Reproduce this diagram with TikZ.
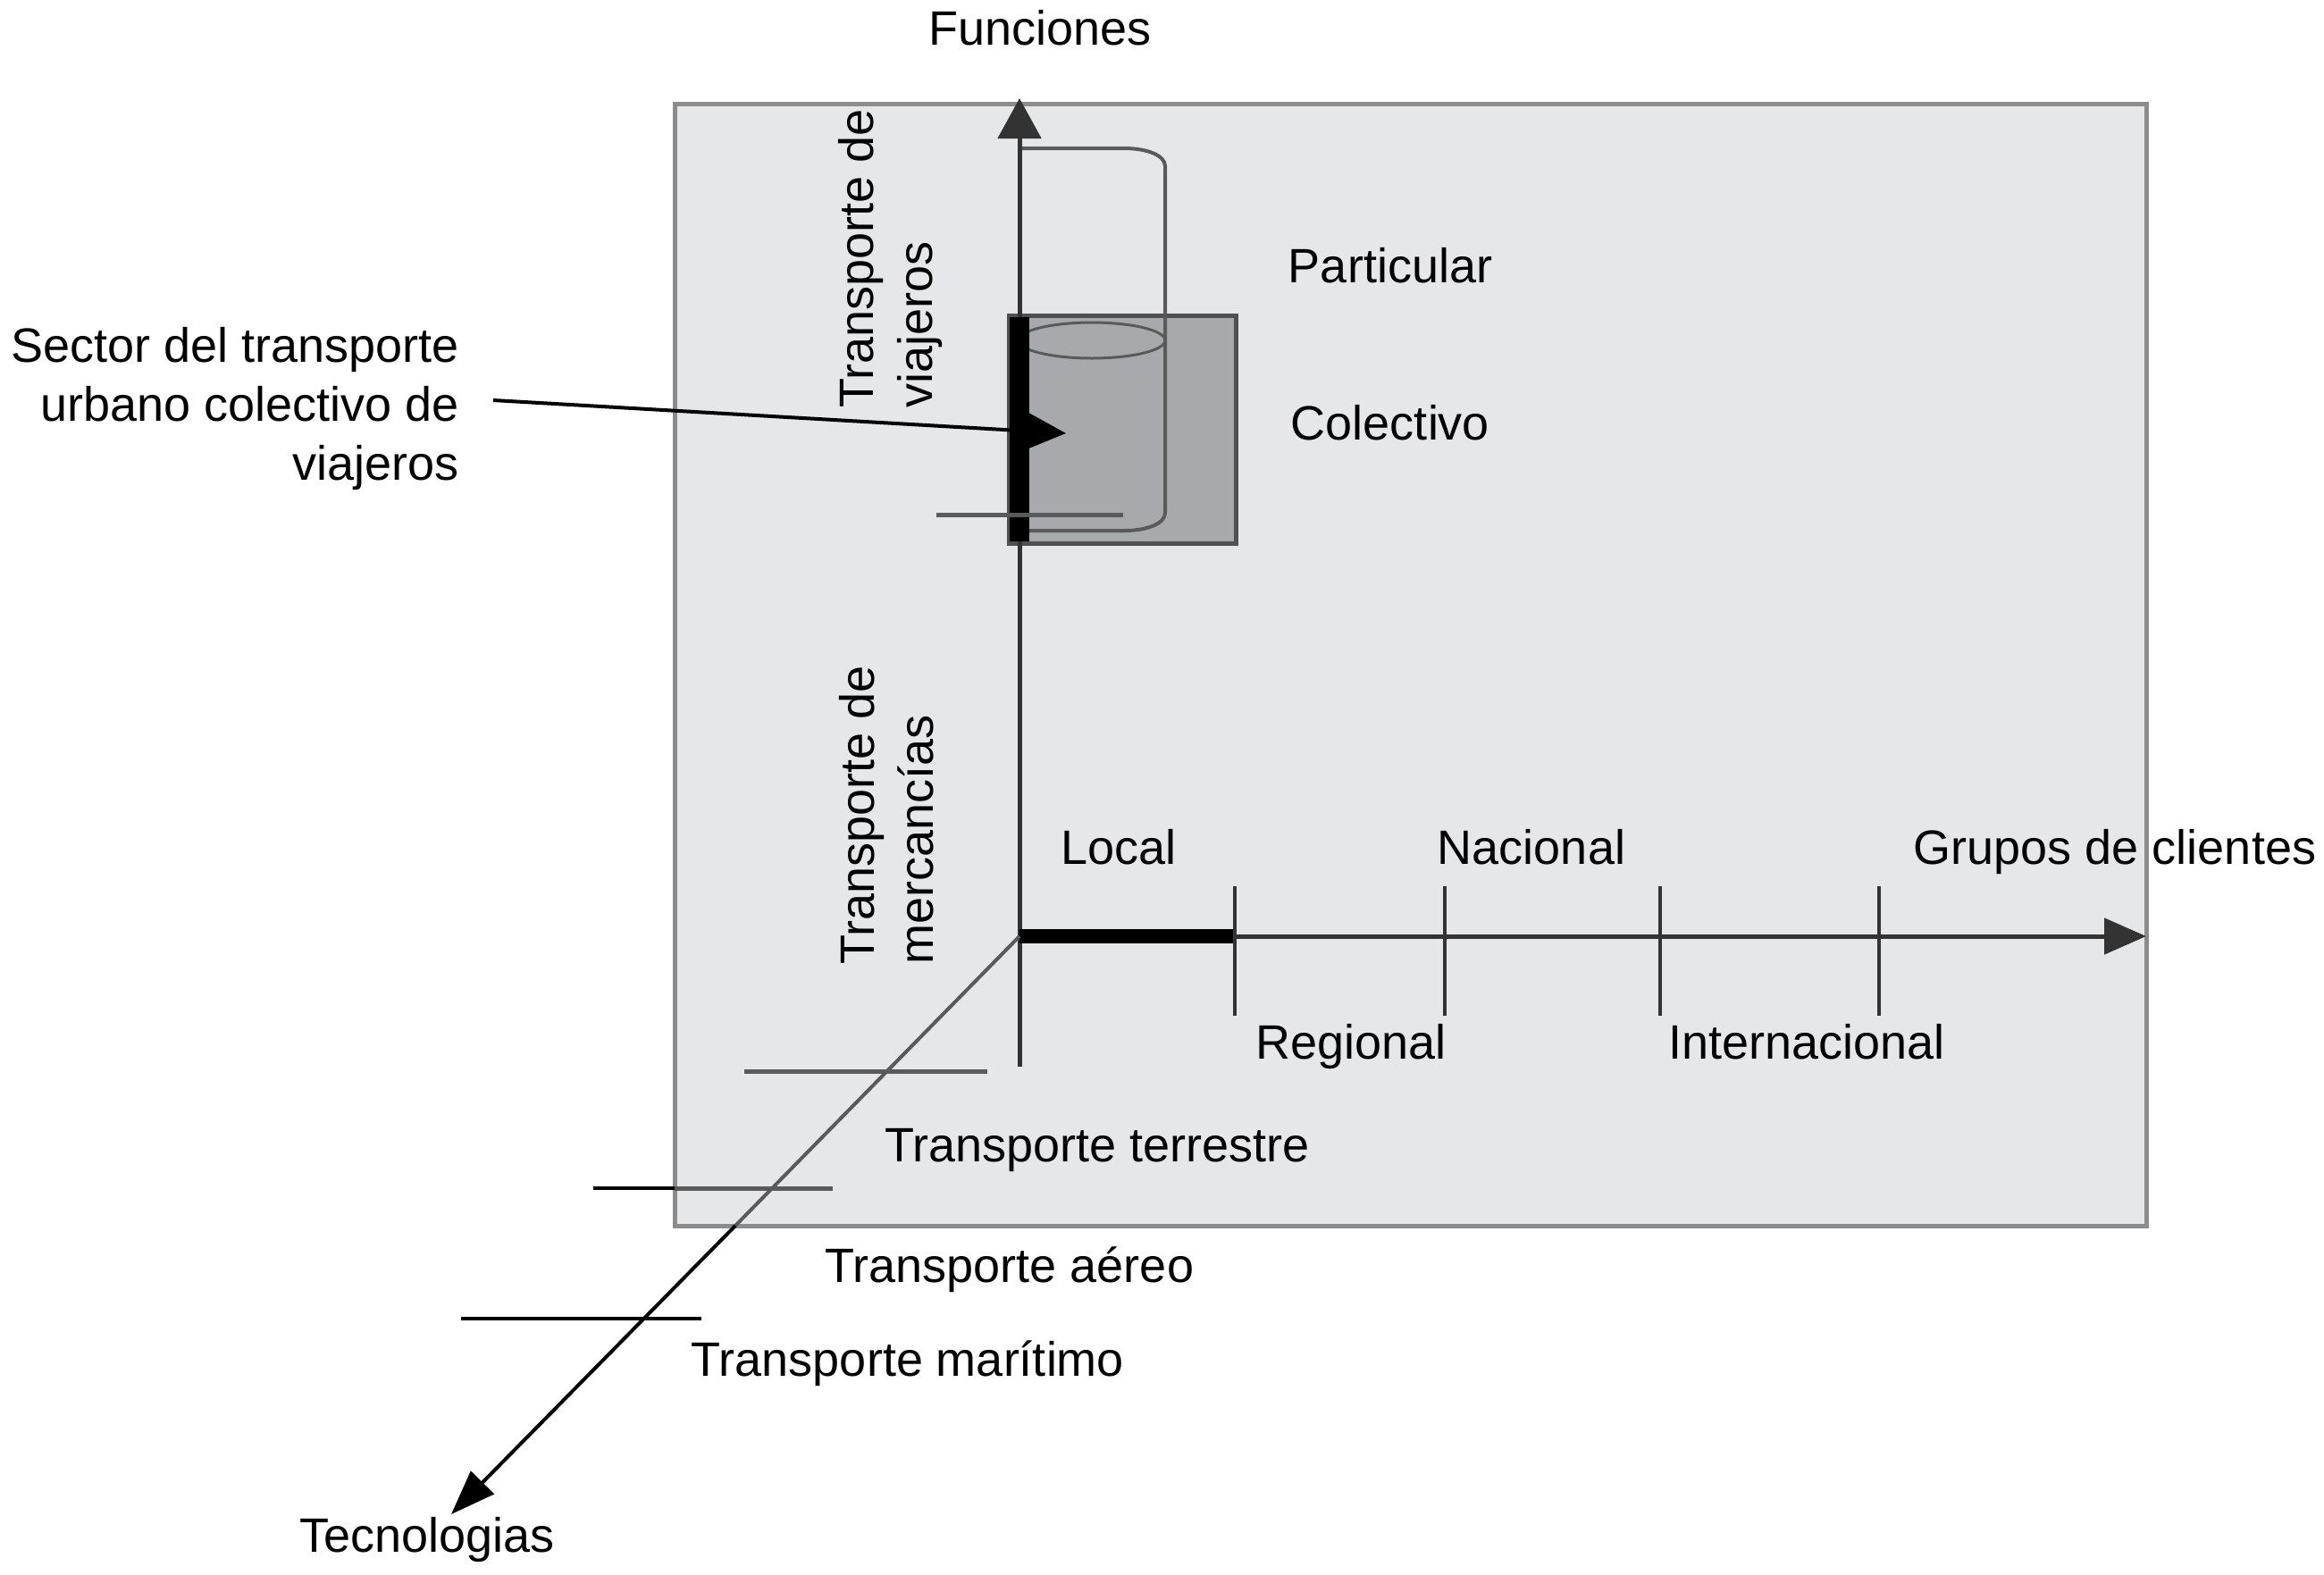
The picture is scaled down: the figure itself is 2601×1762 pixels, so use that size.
\documentclass[tikz,border=0pt]{standalone}
\usepackage{fontspec}
\setmainfont{Liberation Sans}
\usetikzlibrary{arrows.meta}
\definecolor{panel}{HTML}{E6E7E9}
\definecolor{panelline}{HTML}{8C8C8C}
\definecolor{boxfill}{HTML}{A7A9AC}
\definecolor{boxline}{HTML}{505050}
\definecolor{axisgray}{HTML}{333333}
\definecolor{thingray}{HTML}{5A5A5A}
\begin{document}
\begin{tikzpicture}[x=1pt,y=-1pt,
  lbl/.style={font=\fontsize{54}{66}\selectfont, inner sep=0pt, outer sep=0pt, text=black},
  axisline/.style={draw=axisgray, line width=5pt},
  tickline/.style={draw=axisgray, line width=4pt},
  grayline/.style={draw=thingray, line width=4pt},
  blackline/.style={draw=black, line width=4pt}]
\useasboundingbox (0,0) rectangle (2601,1762);
\fill[white] (0,0) rectangle (2601,1762);
% panel
\draw[fill=panel, draw=panelline, line width=5pt] (755,116) rectangle (2402,1372);
% collective box
\draw[fill=boxfill, draw=boxline, line width=5pt] (1129,353) rectangle (1383,608);
\draw[thingray, line width=3pt] (1222,381) ellipse [x radius=82, y radius=20];
% cylinder outline
\draw[grayline] (1141,166) -- (1258,166) .. controls (1284,166) and (1304,174) .. (1304,186)
  -- (1304,574) .. controls (1304,586) and (1284,594) .. (1258,594) -- (1141,594);
% coordinates
\coordinate (O) at (1141,1048);
\coordinate (vbot) at (1141,1194);
\coordinate (vtop) at (1141,110);
\coordinate (hend) at (2402,1048);
\coordinate (hthick) at (1382,1048);
\coordinate (dcross) at (823,1372);
\coordinate (dtip) at (505,1695);
\coordinate (ptrstart) at (552,448);
\coordinate (ptrtip) at (1193,485);
% vertical axis
\draw[axisline, -{Triangle[length=45pt,width=48pt]}] (vbot) -- (vtop);
\draw[black, line width=22pt] (1141,355) -- (1141,606);
\draw[thingray, line width=5pt] (1048,576) -- (1257,576);
% pointer
\draw[black, line width=4pt, -{Triangle[length=43pt,width=40pt]}] (ptrstart) -- (ptrtip);
% horizontal axis
\draw[axisline, -{Triangle[length=47pt,width=40pt]}] (O) -- (hend);
\draw[black, line width=16pt] (O) -- (hthick);
\foreach \tx in {1382,1617,1858,2103} \draw[tickline] (\tx,992) -- (\tx,1137);
% diagonal axis
\draw[grayline] (O) -- (dcross);
\draw[blackline, -{Triangle[length=50pt,width=36pt]}] (dcross) -- (dtip);
\draw[grayline, line width=5pt] (833,1199) -- (1105,1199);
\draw[grayline, line width=5pt] (755,1330) -- (932,1330);
\draw[blackline] (664,1330) -- (755,1330);
\draw[blackline] (516,1476) -- (785,1476);
% labels
\node[lbl, anchor=base] (funciones) at (1164,50) {Funciones};
\node[lbl, anchor=base] (particular) at (1556,316) {Particular};
\node[lbl, anchor=base] (colectivo) at (1556,492) {Colectivo};
\node[lbl, anchor=east, align=right] (sector) at (514,458) {Sector del transporte\\urbano colectivo de\\viajeros};
\node[lbl, rotate=90, align=left] (viajeros) at (997,289) {Transporte de\\viajeros};
\node[lbl, rotate=90, align=left] (mercancias) at (992,912) {Transporte de\\mercancías};
\node[lbl, anchor=base] (local) at (1252,967) {Local};
\node[lbl, anchor=base] (nacional) at (1714,967) {Nacional};
\node[lbl, anchor=base] (grupos) at (2367,967) {Grupos de clientes};
\node[lbl, anchor=base] (regional) at (1512,1185) {Regional};
\node[lbl, anchor=base] (internacional) at (2022,1185) {Internacional};
\node[lbl, anchor=base] (terrestre) at (1228,1300) {Transporte terrestre};
\node[lbl, anchor=base] (aereo) at (1130,1435) {Transporte aéreo};
\node[lbl, anchor=base] (maritimo) at (1016,1540) {Transporte marítimo};
\node[lbl, anchor=base] (tecnologias) at (478,1737) {Tecnologias};
\end{tikzpicture}
\end{document}
